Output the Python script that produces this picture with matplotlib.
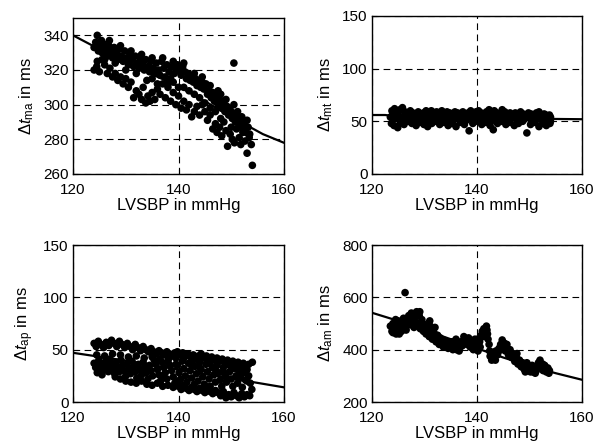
import matplotlib
matplotlib.use("Agg")
import matplotlib.pyplot as plt

plt.rcParams['font.family'] = ['Liberation Sans', 'DejaVu Sans']
plt.rcParams['mathtext.fontset'] = 'custom'
plt.rcParams['mathtext.rm'] = 'Liberation Sans'
plt.rcParams['mathtext.it'] = 'Liberation Sans:italic'

# ---------------- data ----------------
x_label = "LVSBP in mmHg"
xticks = [120, 140, 160]

# Panel A: delta t_ma
pts_ma = [
    (124.0,333),(124.3,336),(124.6,340),(124.8,331),(125.2,334),(125.5,330),(125.8,335),(126.2,332),(126.5,328),(126.8,334),
    (127.2,331),(127.5,327),(127.8,333),(128.2,330),(128.5,326),(128.8,332),(129.2,328),(129.5,325),(129.8,331),(130.2,327),
    (130.5,323),(130.8,329),(131.2,326),(131.5,322),(131.8,328),(132.2,324),(132.5,321),(132.8,326),(133.2,323),(133.5,320),
    (133.8,326),(134.2,322),(134.5,319),(134.8,325),(135.2,321),(135.5,318),(135.8,324),(136.2,320),(136.5,317),(136.8,325),
    (137.2,321),(137.5,316),(137.8,323),(138.2,319),(138.5,315),(138.8,322),(139.2,318),(139.5,321),(139.8,323),(140.2,320),
    (140.5,317),(140.8,322),(141.2,319),(141.5,315),(141.8,318),(142.2,314),(142.5,316),(142.8,313),(143.2,315),(143.5,311),
    (143.8,314),(144.2,310),(144.5,313),(144.8,309),(145.2,312),(145.5,306),(145.8,308),(146.2,304),(146.5,307),(146.8,302),
    (147.2,305),(147.5,300),(147.8,303),(148.2,298),(148.5,301),(148.8,296),(149.2,299),(149.5,294),(149.8,297),(150.2,292),
    (150.5,295),(150.8,290),(151.2,293),(151.5,288),(151.8,291),(152.2,286),(152.5,289),(152.8,284),(153.2,287),(153.5,283),
    (124.0,320),(124.5,322),(125.0,319),(125.5,326),(126.0,323),(126.5,318),(127.0,321),(127.5,316),(128.0,318),(128.5,314),
    (129.0,316),(129.5,312),(130.0,315),(130.5,310),(131.0,313),(131.5,304),(132.0,308),(132.5,306),(133.0,303),(133.3,310),
    (133.8,301),(134.2,305),(134.6,302),(135.0,307),(135.5,303),(136.0,309),(136.5,306),(137.0,312),(137.5,304),(138.0,310),
    (138.5,302),(139.0,307),(139.5,300),(140.0,305),(140.5,298),(141.0,302),(141.5,297),(142.0,300),(142.5,293),(143.0,296),
    (143.5,299),(144.0,294),(144.5,300),(145.0,296),(145.5,291),(146.0,294),(146.5,286),(147.0,289),(147.3,284),(147.8,287),
    (148.2,282),(148.6,290),(149.0,285),(149.3,276),(149.8,283),(150.2,280),(150.6,278),(151.0,286),(151.5,281),(151.8,277),
    (152.2,284),(152.6,279),(153.0,272),(153.4,281),(153.8,277),(154.0,265),(150.5,324),
    (128.0,324),(130.0,320),(132.0,318),(134.0,314),(136.0,312),(138.0,312),(140.0,310),(142.0,308),(144.0,304),(146.0,298),
    (148.0,292),(150.0,287),(126.0,326),(127.0,329),(135.0,315),(139.0,313),(141.0,310),(143.0,306),(145.0,301),(147.0,296),
    (124.6,325),(125.4,337),(126.9,337),(129.0,334),(131.0,331),(133.0,329),(135.0,327),(137.0,327),(139.0,325),(141.0,324),
    (143.0,318),(144.5,316),(146.0,311),(147.5,308),(149.0,303),(150.5,300),(152.0,293),(153.0,291),(151.2,296),(148.0,306),
]
fit_ma_x = [120, 125, 130, 135, 140, 145, 150, 153, 156, 160]
fit_ma_y = [340, 332, 325, 317.5, 310.5, 302, 293, 288, 283, 278]

# Panel B: delta t_mt
pts_mt = [
    (123.8,60),(124.3,62),(124.8,58),(125.3,61),(125.8,63),(126.3,59),(126.8,57),(127.3,60),(127.8,58),(128.3,57),
    (128.8,59),(129.3,57),(129.8,58),(130.3,60),(130.8,58),(131.3,60),(131.8,57),(132.3,59),(132.8,58),(133.3,60),
    (133.8,57),(134.3,59),(134.8,58),(135.3,57),(135.8,59),(136.3,58),(136.8,57),(137.3,59),(137.8,57),(138.3,58),
    (138.8,60),(139.3,58),(139.8,59),(140.3,60),(140.8,58),(141.3,57),(141.8,59),(142.3,61),(142.8,58),(143.3,60),
    (143.8,58),(144.3,57),(144.8,61),(145.3,59),(145.8,57),(146.3,58),(146.8,56),(147.3,58),(147.8,57),(148.3,59),
    (148.8,57),(149.3,56),(149.8,58),(150.3,57),(150.8,56),(151.3,58),(151.8,59),(152.3,56),(152.8,57),(153.3,55),
    (153.8,56),
    (123.5,54),(124.0,52),(124.5,55),(125.0,53),(125.5,51),(126.0,54),(126.5,53),(127.0,55),(127.5,52),(128.0,51),
    (128.5,54),(129.0,53),(129.5,55),(130.0,52),(130.5,51),(131.0,54),(131.5,53),(132.0,55),(132.5,52),(133.0,51),
    (133.5,53),(134.0,54),(134.5,52),(135.0,55),(135.5,51),(136.0,53),(136.5,54),(137.0,52),(137.5,55),(138.0,51),
    (138.5,54),(139.0,52),(139.5,53),(140.0,55),(140.5,51),(141.0,54),(141.5,52),(142.0,55),(142.5,53),(143.0,51),
    (143.5,54),(144.0,53),(144.5,55),(145.0,52),(145.5,51),(146.0,54),(146.5,53),(147.0,55),(147.5,52),(148.0,51),
    (148.5,54),(149.0,52),(149.5,55),(150.0,53),(150.5,51),(151.0,54),(151.5,52),(152.0,55),(152.5,53),(153.0,51),
    (153.5,54),(154.0,50),
    (123.7,48),(124.2,46),(124.9,44),(125.4,49),(126.1,47),(126.9,50),(127.6,48),(128.4,46),(129.1,49),(129.9,47),
    (130.6,45),(131.4,48),(132.2,50),(132.9,47),(133.7,49),(134.5,46),(135.2,48),(136.0,45),(136.8,49),(137.6,47),
    (138.5,41),(139.2,48),(140.1,50),(140.9,47),(141.7,49),(142.5,46),(143.1,42),(143.9,48),(144.7,50),(145.5,47),
    (146.3,49),(147.1,46),(147.9,48),(148.7,50),(149.5,39),(150.2,47),(151.0,49),(151.8,45),(152.5,48),(153.2,46),
    (153.9,48),
    (124.0,57),(125.0,56),(126.2,56),(127.4,57),(128.6,56),(129.6,56),(130.9,56),(132.0,57),(133.1,56),(134.1,56),
    (135.2,56),(136.4,56),(137.4,57),(138.6,56),(139.7,56),(140.9,56),(142.0,57),(143.2,56),(144.2,56),(145.4,57),
    (146.5,56),(147.6,55),(148.7,56),(149.8,55),(150.9,56),(152.0,57),(153.1,56),(154.0,54),(153.6,49),(152.9,49),
]
fit_mt_x = [120, 122.5, 125, 130, 140, 150, 160]
fit_mt_y = [56, 56, 54.5, 53.5, 53, 52.5, 52]

# Panel C: delta t_ap
pts_ap = [
    (124.0,56),(124.4,53),(124.8,58),(125.3,55),(125.8,52),(126.3,57),(126.8,54),(127.3,59),(127.8,56),(128.3,53),
    (128.8,58),(129.3,55),(129.8,52),(130.3,56),(130.8,53),(131.3,50),(131.8,55),(132.3,52),(132.8,49),(133.3,53),
    (133.8,50),(134.3,48),(134.8,51),(135.3,48),(135.8,46),(136.3,49),(136.8,47),(137.3,45),(137.8,48),(138.3,46),
    (138.8,44),(139.3,47),(139.8,48),(140.3,45),(140.8,47),(141.3,44),(141.8,46),(142.3,43),(142.8,45),(143.3,42),
    (143.8,44),(144.3,46),(144.8,42),(145.3,44),(145.8,41),(146.3,43),(146.8,40),(147.3,42),(147.8,39),(148.3,41),
    (148.8,38),(149.3,40),(149.8,37),(150.3,39),(150.8,36),(151.3,38),(151.8,35),(152.3,37),(152.8,34),(153.3,36),
    (154.0,38),
    (124.0,37),(124.3,33),(124.6,28),(124.9,40),(125.2,35),(125.5,26),(125.8,31),(126.1,38),(126.4,34),(126.7,29),
    (127.0,41),(127.3,36),(127.6,31),(127.9,27),(128.2,38),(128.5,33),(128.8,29),(129.1,40),(129.4,35),(129.7,30),
    (130.0,25),(130.3,37),(130.6,32),(130.9,27),(131.2,39),(131.5,34),(131.8,29),(132.1,23),(132.4,36),(132.7,31),
    (133.0,26),(133.3,38),(133.6,33),(133.9,28),(134.2,22),(134.5,35),(134.8,30),(135.1,25),(135.4,40),(135.7,36),
    (136.0,31),(136.3,26),(136.6,20),(136.9,38),(137.2,33),(137.5,28),(137.8,22),(138.1,41),(138.4,35),(138.7,30),
    (139.0,24),(139.3,18),
    (128.0,24),(129.0,22),(130.0,20),(131.0,19),(132.0,18),(133.0,20),(134.0,17),(135.0,16),(136.0,18),(137.0,15),
    (138.0,16),(139.0,14),(140.0,15),(140.5,12),(141.0,16),(141.5,13),(142.0,11),(142.5,14),(143.0,12),(143.5,10),
    (144.0,13),(144.5,11),(145.0,9),(145.5,12),(146.0,10),(146.5,8),(147.0,11),(147.5,9),(148.0,6),(148.5,10),
    (149.0,4),(149.5,7),(150.0,5),(150.5,9),(151.0,6),(151.5,4),(152.0,8),(152.5,5),(153.0,7),(153.5,6),
    (139.5,42),(139.8,35),(140.1,28),(140.4,22),(140.7,39),(141.0,32),(141.3,25),(141.6,19),(141.9,37),(142.2,30),
    (142.5,23),(142.8,40),(143.1,34),(143.4,27),(143.7,20),(144.0,38),(144.3,31),(144.6,24),(144.9,17),(145.2,36),
    (145.5,29),(145.8,22),(146.1,39),(146.4,33),(146.7,26),(147.0,19),(147.3,35),(147.6,28),(147.9,21),(148.2,15),
    (148.5,33),(148.8,26),(149.1,19),(149.4,36),(149.7,29),(150.0,22),(150.3,15),(150.6,32),(150.9,25),(151.2,18),
    (151.5,30),(151.8,23),(152.1,14),(152.4,28),(152.7,21),(153.0,31),(153.3,25),(153.6,18),(153.9,12),
    (124.5,45),(126.0,44),(127.5,46),(129.0,45),(130.5,43),(132.0,44),(133.5,42),(135.0,43),(136.5,41),(138.0,38),
    (139.5,36),(141.0,42),(142.5,36),(144.0,33),(145.5,37),(147.0,31),(148.5,29),(150.0,33),(151.5,26),(153.0,20),
    (152.0,33),(149.0,24),(146.0,15),(143.0,17),(140.0,20),(137.0,25),(134.0,33),(131.0,30),(128.0,35),(125.0,30),
]
fit_ap_x = [120, 130, 140, 150, 160]
fit_ap_y = [47, 39.5, 31, 22.5, 14]

# Panel D: delta t_am
pts_am = [
    (123.5,490),(123.8,470),(124.0,500),(124.3,480),(124.6,460),(124.8,495),(125.0,510),(125.3,485),(125.6,470),(125.8,500),
    (126.0,520),(126.2,490),(126.5,475),(126.8,505),(127.0,530),(127.2,495),(127.5,540),(127.8,510),(128.0,485),(128.2,525),
    (128.5,545),(128.8,500),(129.0,530),(129.2,480),(129.5,515),(129.8,470),(130.0,495),(130.3,460),(130.6,485),(130.9,450),
    (131.0,510),(131.2,470),(131.5,440),(131.8,465),(132.0,485),(132.2,430),(132.5,455),(132.8,420),(133.0,445),(133.3,425),
    (133.6,410),(133.9,435),(134.2,420),(134.5,405),(134.8,430),(135.1,415),(135.4,400),(135.7,425),(136.0,440),(136.3,410),
    (136.6,395),(136.9,430),(137.2,415),(137.5,450),(137.8,435),(138.1,420),(138.4,445),(138.7,410),(139.0,430),(139.3,400),
    (139.6,440),(139.9,415),(140.2,395),(140.5,430),(140.8,455),(141.0,470),(141.3,480),(141.6,460),(141.9,475),(142.1,440),
    (142.3,420),(142.5,375),(142.8,360),(143.0,390),(143.3,370),(143.6,395),(143.9,380),(144.2,405),(144.5,420),(144.8,437),
    (145.1,410),(145.4,395),(145.7,420),(146.0,380),(146.3,400),(146.6,370),(146.9,385),(147.2,355),(147.5,370),(147.8,345),
    (148.1,360),(148.4,335),(148.7,350),(149.0,325),(149.3,340),(149.6,320),(149.9,335),(150.2,315),(150.5,340),(150.8,325),
    (151.1,310),(151.4,330),(151.7,350),(152.0,360),(152.3,335),(152.6,320),(152.9,340),(153.2,315),(153.5,330),(153.8,320),
    (126.3,618),
    (124.0,465),(124.5,515),(125.2,460),(125.9,480),(126.6,495),(127.4,520),(128.3,505),(129.1,545),(129.7,500),(130.4,475),
    (131.1,490),(131.6,455),(132.3,445),(133.1,430),(133.8,415),(134.6,420),(135.3,430),(136.1,400),(136.8,410),(137.6,425),
    (138.2,440),(138.9,420),(139.5,405),(140.1,440),(140.6,410),(141.2,450),(141.8,490),(142.0,460),(142.4,395),(142.9,380),
    (143.5,360),(144.0,390),(144.6,400),(145.2,425),(145.8,405),(146.4,385),(147.0,365),(147.6,385),(148.2,345),(148.9,330),
    (149.5,350),(150.1,330),(150.7,315),(151.3,320),(151.9,340),(152.5,345),(153.1,325),(153.7,310),(149.2,315),(150.4,320),
]
fit_am_x = [120, 125, 130, 135, 140, 145, 150, 155, 160]
fit_am_y = [541, 510, 475, 440, 405, 370, 338, 310, 285]

panels = [
    dict(pts=pts_ma, fx=fit_ma_x, fy=fit_ma_y, sub="ma", ylim=(260, 350), yticks=[260, 280, 300, 320, 340],
         rect=[73, 18, 211, 156]),
    dict(pts=pts_mt, fx=fit_mt_x, fy=fit_mt_y, sub="mt", ylim=(0, 150), yticks=[0, 50, 100, 150],
         rect=[372, 16, 210, 158]),
    dict(pts=pts_ap, fx=fit_ap_x, fy=fit_ap_y, sub="ap", ylim=(0, 150), yticks=[0, 50, 100, 150],
         rect=[73, 245, 211, 157]),
    dict(pts=pts_am, fx=fit_am_x, fy=fit_am_y, sub="am", ylim=(200, 800), yticks=[200, 400, 600, 800],
         rect=[372, 245, 210, 157]),
]

W, H = 595, 443
fig = plt.figure(figsize=(W / 100, H / 100), dpi=100)

for p in panels:
    l, t, w, h = p["rect"]
    ax = fig.add_axes([l / W, 1 - (t + h) / H, w / W, h / H])
    xs = [q[0] for q in p["pts"]]
    ys = [q[1] for q in p["pts"]]
    ax.scatter(xs, ys, s=30, c="black", edgecolors="none", zorder=3)
    ax.plot(p["fx"], p["fy"], color="black", lw=1.6, zorder=4)
    ax.set_xlim(120, 160)
    ax.set_ylim(*p["ylim"])
    ax.set_xticks(xticks)
    ax.set_yticks(p["yticks"])
    ax.grid(True, color="black", linestyle=(0, (6, 4)), linewidth=0.8, zorder=1)
    ax.set_axisbelow(True)
    ax.tick_params(direction="in", length=3.5, width=0.8, labelsize=11, colors="black")
    ax.tick_params(axis="x", pad=6.5)
    ax.tick_params(axis="y", pad=3)
    for s in ax.spines.values():
        s.set_linewidth(1.0)
        s.set_color("black")
    ax.set_xlabel(x_label, fontsize=12, labelpad=1)
    ax.set_ylabel(r"$\mathit{\Delta t}_{\mathrm{%s}}$ in ms" % p["sub"], fontsize=12, labelpad=5)

fig.savefig("out.png", dpi=100)
